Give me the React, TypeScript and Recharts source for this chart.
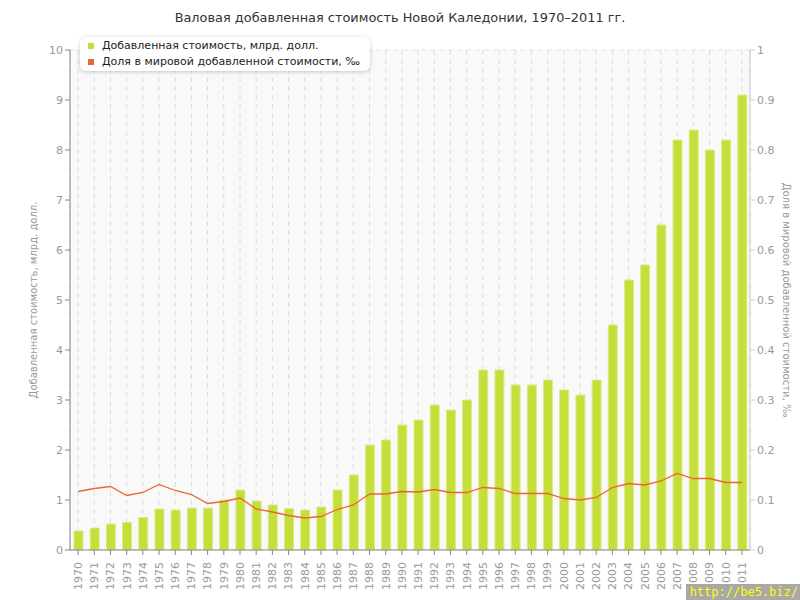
import React from 'react';
import {
  ComposedChart,
  Bar,
  Line,
  XAxis,
  YAxis,
  CartesianGrid
} from 'recharts';

const years = [
  1970, 1971, 1972, 1973, 1974, 1975, 1976, 1977, 1978, 1979,
  1980, 1981, 1982, 1983, 1984, 1985, 1986, 1987, 1988, 1989,
  1990, 1991, 1992, 1993, 1994, 1995, 1996, 1997, 1998, 1999,
  2000, 2001, 2002, 2003, 2004, 2005, 2006, 2007, 2008, 2009,
  2010, 2011
];

// добавленная стоимость, млрд. долл.
const valueAdded = [
  0.38, 0.44, 0.52, 0.55, 0.65, 0.82, 0.8, 0.84, 0.84, 1.0,
  1.2, 0.98, 0.9, 0.83, 0.8, 0.86, 1.2, 1.5, 2.1, 2.2,
  2.5, 2.6, 2.9, 2.8, 3.0, 3.6, 3.6, 3.3, 3.3, 3.4,
  3.2, 3.1, 3.4, 4.5, 5.4, 5.7, 6.5, 8.2, 8.4, 8.0,
  8.2, 9.1
];

// доля в мировой добавленной стоимости, ‰
const worldShare = [
  0.117, 0.123, 0.127, 0.109, 0.115, 0.131, 0.119, 0.111, 0.093, 0.097,
  0.104, 0.082, 0.076, 0.069, 0.064, 0.067, 0.081, 0.09, 0.112, 0.112,
  0.117, 0.116, 0.121, 0.115, 0.115, 0.125, 0.123, 0.113, 0.113, 0.113,
  0.103, 0.1, 0.105, 0.125, 0.133, 0.13, 0.138, 0.153, 0.143, 0.143,
  0.135, 0.135
];

const leftTicks = [0, 1, 2, 3, 4, 5, 6, 7, 8, 9, 10];
const rightTicks = [0, 0.1, 0.2, 0.3, 0.4, 0.5, 0.6, 0.7, 0.8, 0.9, 1];

const data = years.map((y, i) => ({
  year: String(y),
  value: valueAdded[i],
  share: worldShare[i]
}));

const FONT = '"DejaVu Sans", Verdana, sans-serif';
const GREEN = '#c5de3a';
const ORANGE = '#e8672f';

const YearTick = (props: any) => {
  const { x, y, payload } = props;
  return (
    <text
      x={x}
      y={y + 5}
      transform={`rotate(-90, ${x}, ${y + 5})`}
      textAnchor="end"
      dy="0.35em"
      fill="#999"
      fontSize={11}
      fontFamily={FONT}
    >
      {payload.value}
    </text>
  );
};

const LegendBox = () => (
  <div
    style={{
      position: 'absolute',
      left: 80,
      top: 37,
      background: '#fff',
      borderRadius: 6,
      boxShadow: '0 1px 4px rgba(0,0,0,0.2)',
      padding: '1px 10px 1px 8px',
      fontFamily: FONT,
      fontSize: 11,
      color: '#222',
      lineHeight: '16px'
    }}
  >
    <div style={{ display: 'flex', alignItems: 'center' }}>
      <span style={{ width: 6, height: 6, background: GREEN, marginRight: 8, display: 'inline-block' }} />
      Добавленная стоимость, млрд. долл.
    </div>
    <div style={{ display: 'flex', alignItems: 'center' }}>
      <span style={{ width: 6, height: 6, background: ORANGE, marginRight: 8, display: 'inline-block' }} />
      Доля в мировой добавленной стоимости, ‰
    </div>
  </div>
);

export default function App() {
  return (
    <div style={{ position: 'absolute', left: 0, top: 0, width: 800, height: 600, background: '#fff' }}>
      <div
        style={{
          position: 'absolute',
          top: 10,
          left: 0,
          width: 800,
          textAlign: 'center',
          fontFamily: FONT,
          fontSize: 12.9,
          color: '#333'
        }}
      >
        Валовая добавленная стоимость Новой Каледонии, 1970–2011 гг.
      </div>
      <ComposedChart
        width={800}
        height={600}
        data={data}
        margin={{ top: 50, right: 10, bottom: 10, left: 30 }}
      >
        <CartesianGrid
          fill="#f9f9f9"
          stroke="#e2e2e2"
          strokeDasharray="5 4"
          vertical={false}
        />
        <XAxis
          dataKey="year"
          height={40}
          interval={0}
          tick={<YearTick />}
          tickSize={5}
          stroke="#888"
          tickLine={{ stroke: '#888' }}
        />
        <YAxis
          yAxisId="left"
          width={40}
          domain={[0, 10]}
          ticks={leftTicks}
          interval={0}
          tick={{ fill: '#999', fontSize: 11, fontFamily: FONT }}
          stroke="#888"
          tickSize={5}
          label={{
            content: () => (
              <text
                x={37}
                y={300}
                transform="rotate(-90, 37, 300)"
                textAnchor="middle"
                fill="#999"
                fontSize={10}
                fontFamily={FONT}
              >
                Добавленная стоимость, млрд. долл.
              </text>
            )
          }}
        />
        <YAxis
          yAxisId="right"
          orientation="right"
          width={40}
          domain={[0, 1]}
          ticks={rightTicks}
          interval={0}
          tick={{ fill: '#999', fontSize: 11, fontFamily: FONT }}
          stroke="#ccc"
          tickSize={5}
          label={{
            content: () => (
              <text
                x={783}
                y={300}
                transform="rotate(90, 783, 300)"
                textAnchor="middle"
                fill="#999"
                fontSize={10}
                fontFamily={FONT}
              >
                Доля в мировой добавленной стоимости, ‰
              </text>
            )
          }}
        />
        <Bar
          yAxisId="left"
          dataKey="value"
          fill={GREEN}
          stroke="#dbeb8a"
          strokeWidth={1}
          barSize={9}
          isAnimationActive={false}
        />
        <CartesianGrid
          stroke="#dcdcdc"
          strokeDasharray="5 4"
          horizontal={false}
        />
        <Line
          yAxisId="right"
          dataKey="share"
          stroke={ORANGE}
          strokeWidth={1.3}
          dot={false}
          activeDot={false}
          isAnimationActive={false}
        />
      </ComposedChart>
      <LegendBox />
      <div
        style={{
          position: 'absolute',
          right: 0,
          bottom: 0,
          background: '#a8a8a8',
          color: '#ffff00',
          fontFamily: '"DejaVu Sans Mono", monospace',
          fontSize: 12,
          padding: '1px 2px 0 4px',
          lineHeight: '15px'
        }}
      >
        http://be5.biz/
      </div>
    </div>
  );
}
